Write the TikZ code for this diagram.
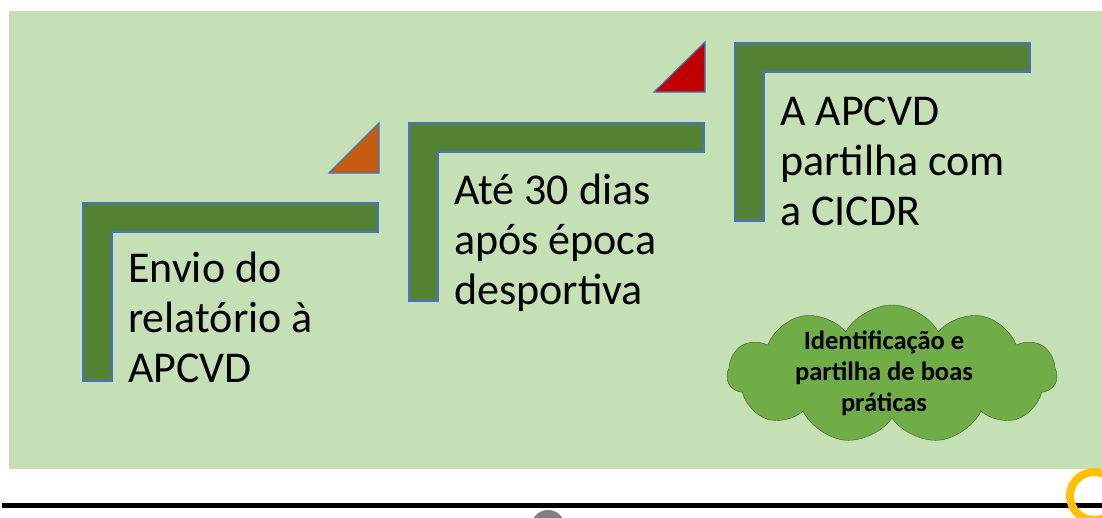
\documentclass[tikz,border=0pt]{standalone}
\usepackage{fontspec}
\setmainfont{Carlito}
\usepackage{xcolor}
\usetikzlibrary{shapes.symbols}
\definecolor{fundo}{HTML}{C5E0B4}
\definecolor{verdeesc}{HTML}{548235}
\definecolor{verdeclaro}{HTML}{70AD47}
\definecolor{contorno}{HTML}{4472C4}
\definecolor{laranja}{HTML}{C55A11}
\definecolor{vermelho}{HTML}{C00000}
\definecolor{ouro}{HTML}{FFC000}

\begin{document}
\begin{tikzpicture}[x=1pt,y=-1pt,
		degrau/.style={fill=verdeesc,draw=contorno,line width=1.2pt},
		seta/.style={draw=contorno,line width=1.2pt},
		texto/.style={anchor=north west,align=left,inner sep=0pt,font=\fontsize{44}{50}\selectfont},
		nuvem/.style={cloud,cloud puffs=11,cloud puff arc=120,cloud ignores aspect,inner sep=0pt,
			minimum width=330pt,minimum height=138pt,
			fill=verdeclaro,draw=verdeesc!70!black},
		dica/.style={align=center,inner sep=0pt,font=\bfseries\fontsize{26.5}{31}\selectfont}]
			\useasboundingbox (0,0) rectangle (1102,517);
			\fill[fundo] (9,11) rectangle (1102,469);
			\def\lw{295}
			\def\lh{178}
			\def\le{29}
			\coordinate (A) at (83,203);
			\coordinate (B) at (409,123);
			\coordinate (C) at (735,43);
			\draw[degrau] (A) -- ++(\lw,0) -- ++(0,\le) -- ++(-\lw+\le,0) -- ++(0,\lh-\le) -- ++(-\le,0) -- cycle;
			\draw[degrau] (B) -- ++(\lw,0) -- ++(0,\le) -- ++(-\lw+\le,0) -- ++(0,\lh-\le) -- ++(-\le,0) -- cycle;
			\draw[degrau] (C) -- ++(\lw,0) -- ++(0,\le) -- ++(-\lw+\le,0) -- ++(0,\lh-\le) -- ++(-\le,0) -- cycle;
			\draw[seta,fill=laranja] (379,123) -- (379,173) -- (329,173) -- cycle;
			\draw[seta,fill=vermelho] (705,42) -- (705,92) -- (654,92) -- cycle;
			\node[texto] (T1) at (128,252) {Envio do\\relatório à\\APCVD};
			\node[texto] (T2) at (454,174) {Até 30 dias\\após época\\desportiva};
			\node[texto] (T3) at (780,97) {A APCVD\\partilha com\\a CICDR};
			\node[nuvem] (N) at (892,374) {};
			\node[dica] (D) at (884,373) {Identificação e\\partilha de boas\\práticas};
			\draw[line width=5pt] (2,505.5) -- (1102,505.5);
			\fill[gray] (548,527) circle (17pt);
			\draw[ouro,line width=8pt] (1094,496) circle (24pt);
		\end{tikzpicture}
\end{document}
